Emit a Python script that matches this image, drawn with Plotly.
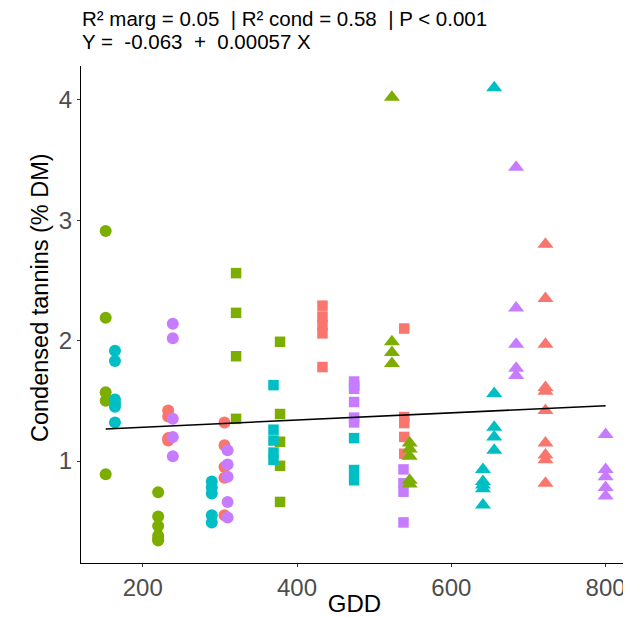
import plotly.graph_objects as go

# ---- data ----
colors = {"red": "#F8766D", "green": "#7CAE00", "cyan": "#00BFC4", "purple": "#C77CFF"}

# circles
green_circ_x = [152]*5 + [220]*6
green_circ_y = [2.91, 2.19, 1.57, 1.50, 0.89, 0.74, 0.54, 0.46, 0.38, 0.35, 0.34]
cyan_circ_x = [164]*6 + [289.5]*5
cyan_circ_y = [1.915, 1.83, 1.51, 1.48, 1.45, 1.32, 0.83, 0.78, 0.73, 0.55, 0.49]
red_circ_x = [233]*4 + [306]*5
red_circ_y = [1.42, 1.37, 1.19, 1.17, 1.32, 1.13, 0.95, 0.86, 0.55]
purple_circ_x = [239]*5 + [310]*5
purple_circ_y = [2.14, 2.02, 1.35, 1.20, 1.04, 1.09, 0.97, 0.87, 0.66, 0.53]

# squares
green_sq_x = [321]*4 + [378]*5
green_sq_y = [2.56, 2.23, 1.87, 1.35, 1.99, 1.39, 1.16, 0.96, 0.66]
cyan_sq_x = [369.5]*5 + [474]*4
cyan_sq_y = [1.63, 1.26, 1.17, 1.07, 1.01, 1.625, 1.19, 0.925, 0.84]
red_sq_x = [433]*5 + [539]*5
red_sq_y = [2.29, 2.20, 2.13, 2.06, 1.78, 2.10, 1.365, 1.315, 1.20, 1.06]
purple_sq_x = [474]*5 + [538]*4
purple_sq_y = [1.66, 1.60, 1.49, 1.36, 1.32, 0.93, 0.815, 0.745, 0.49]

# triangles
green_tri_x = [523]*4 + [546]*5
green_tri_y = [4.02, 1.99, 1.90, 1.81, 1.15, 1.10, 1.04, 0.84, 0.81]
cyan_tri_x = [655.6]*5 + [641]*5
cyan_tri_y = [4.10, 1.56, 1.28, 1.20, 1.09, 0.93, 0.83, 0.80, 0.77, 0.635]
red_tri_x = [722]*10
red_tri_y = [2.80, 2.35, 1.97, 1.61, 1.58, 1.42, 1.15, 1.05, 1.01, 0.815]
purple_tri_x = [684]*5 + [800]*5
purple_tri_y = [3.44, 2.27, 1.97, 1.77, 1.71, 1.22, 0.93, 0.87, 0.78, 0.71]

fit_x = [152, 800]
fit_y = [1.266, 1.459]

x_ticks = [200, 400, 600, 800]
y_ticks = [1, 2, 3, 4]

title_line1 = "R² marg = 0.05  | R² cond = 0.58  | P < 0.001"
title_line2 = "Y =  -0.063  +  0.00057 X"
y_title = "Condensed tannins (% DM)"
x_title = "GDD"

fig = go.Figure()

groups = [
    (green_circ_x, green_circ_y, "green", "circle", 12),
    (cyan_circ_x, cyan_circ_y, "cyan", "circle", 12),
    (red_circ_x, red_circ_y, "red", "circle", 12),
    (purple_circ_x, purple_circ_y, "purple", "circle", 12),
    (green_sq_x, green_sq_y, "green", "square", 10.5),
    (cyan_sq_x, cyan_sq_y, "cyan", "square", 10.5),
    (red_sq_x, red_sq_y, "red", "square", 10.5),
    (purple_sq_x, purple_sq_y, "purple", "square", 10.5),
    (green_tri_x, green_tri_y, "green", "triangle-up", 14),
    (cyan_tri_x, cyan_tri_y, "cyan", "triangle-up", 14),
    (red_tri_x, red_tri_y, "red", "triangle-up", 14),
    (purple_tri_x, purple_tri_y, "purple", "triangle-up", 14),
]
for gx, gy, c, sym, sz in groups:
    fig.add_trace(go.Scatter(
        x=gx, y=gy, mode="markers",
        marker=dict(color=colors[c], symbol=sym, size=sz, line=dict(width=0)),
        showlegend=False, hoverinfo="x+y"))

fig.add_trace(go.Scatter(x=fit_x, y=fit_y, mode="lines",
                         line=dict(color="black", width=1.6), showlegend=False))

# page body adds an 8px margin, so the figure is sized/offset to compensate
PH = 497  # plot-area height in px
fig.update_layout(
    width=623, height=609,
    margin=dict(l=73, r=3, t=58, b=54, autoexpand=False),
    paper_bgcolor="white", plot_bgcolor="white",
    font=dict(family="Liberation Sans, Arial, sans-serif"),
    xaxis=dict(range=[120, 829], tickvals=x_ticks, showgrid=False, zeroline=False,
               showline=True, linecolor="black", linewidth=1.4,
               ticks="outside", ticklen=3, tickcolor="#333333", tickwidth=1,
               tickfont=dict(size=24, color="#4D4D4D"),
               title=dict(text=x_title, font=dict(size=24, color="black"), standoff=3)),
    yaxis=dict(range=[0.153, 4.28], tickvals=y_ticks, showgrid=False, zeroline=False,
               showline=True, linecolor="black", linewidth=1.4,
               ticks="outside", ticklen=3, tickcolor="#333333", tickwidth=1,
               tickfont=dict(size=24, color="#4D4D4D")),
    annotations=[
        dict(text=title_line1, xref="paper", yref="paper", x=0, y=1 + (66 - 18) / PH,
             xanchor="left", yanchor="middle", showarrow=False, xshift=-1,
             font=dict(size=20.5, color="black")),
        dict(text=title_line2, xref="paper", yref="paper", x=0, y=1 + (66 - 42) / PH,
             xanchor="left", yanchor="middle", showarrow=False, xshift=-1,
             font=dict(size=20.5, color="black")),
        dict(text=y_title, xref="paper", yref="paper", x=0, y=(563 - 298) / PH,
             xanchor="center", yanchor="middle", xshift=-41, textangle=-90,
             showarrow=False, font=dict(size=23.5, color="black")),
    ],
)

fig.write_html("out.html")
